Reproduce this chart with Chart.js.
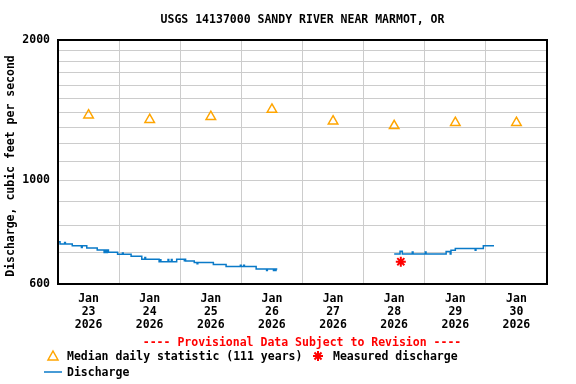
<!DOCTYPE html>
<html>
<head>
<meta charset="utf-8">
<script src="https://cdn.jsdelivr.net/npm/chart.js@4/dist/chart.umd.min.js"></script>
<style>
  body { margin: 0; background: #fff; }
  #wrap { width: 576px; height: 384px; position: relative; }
</style>
</head>
<body>
<div id="wrap"><canvas id="flowChart"></canvas></div>
<script>
// Data (hours since Jan 23 2026 00:00)
const dayLabels = ['23', '24', '25', '26', '27', '28', '29', '30'];
const medianHours = [12, 36, 60, 84, 108, 132, 156, 180];
const medianCfs = [1380, 1350, 1370, 1420, 1340, 1310, 1330, 1330];

const dischargeHours = [
    0, 0.8, 2.6, 2.9, 5.6, 9.2, 9.5, 11.3, 15.4, 18.1, 18.4, 19.0, 19.4, 19.8,
    23.4, 25.3, 25.6, 28.7, 32.9, 34.1, 34.4, 39.7, 40.1, 40.4, 43.2, 43.5, 44.5, 44.8,
    46.6, 49.6, 49.9, 50.1, 53.5, 54.6, 54.9, 61.0, 66.0, 71.6, 71.9, 72.9, 73.2,
    77.8, 81.9, 82.2, 84.6, 84.9, 85.3, 85.6, 86.1,
    100,
    132.0, 134.3, 135.2, 139.1, 139.4, 144.2, 144.5, 152.4, 154.0, 154.3, 156.0,
    163.8, 164.1, 167.0, 171.2
];
const dischargeCfs = [
    739, 731, 736, 731, 725, 718, 725, 717, 710, 701, 710, 701, 710, 702,
    695, 699, 695, 688, 678, 684, 678, 670, 676, 670, 677, 670, 677, 670,
    678, 673, 678, 672, 667, 663, 667, 661, 654, 658, 654, 658, 654,
    646, 641, 646, 641, 646, 641, 646, 646,
    null,
    696, 705, 696, 703, 696, 703, 696, 704, 696, 709, 715,
    709, 715, 725, 725
];

const measuredHours = [134.6];
const measuredCfs = [670];

const yTicks = [600, 700, 800, 900, 1000, 1100, 1200, 1300, 1400, 1500, 1600, 1700, 1800, 1900, 2000];
const yLabeled = [600, 1000, 2000];

const monoFont = '"DejaVu Sans Mono", "Liberation Mono", monospace';
const gridGray = '#cccccc';
const lineBlue = '#0a7ac8';
const medianOrange = '#ffa500';

// Frame, title, axis title, provisional note, legend
const decorPlugin = {
    id: 'decor',
    afterDraw(chart) {
        const ctx = chart.ctx;
        const a = chart.chartArea;
        ctx.save();
        ctx.strokeStyle = '#000';
        ctx.lineWidth = 2;
        ctx.strokeRect(a.left, a.top, a.right - a.left, a.bottom - a.top);

        ctx.font = 'bold 11.5px ' + monoFont;
        ctx.textBaseline = 'middle';
        ctx.fillStyle = '#000';
        ctx.textAlign = 'center';
        ctx.fillText('USGS 14137000 SANDY RIVER NEAR MARMOT, OR', (a.left + a.right) / 2, 20);

        ctx.save();
        ctx.translate(11, 166);
        ctx.rotate(-Math.PI / 2);
        ctx.fillText('Discharge, cubic feet per second', 0, 0);
        ctx.restore();

        ctx.fillStyle = '#ff0000';
        ctx.fillText('---- Provisional Data Subject to Revision ----', 302, 343);

        // legend
        ctx.textAlign = 'left';
        ctx.fillStyle = '#000';
        ctx.fillText('Median daily statistic (111 years)', 67, 357);
        ctx.fillText('Measured discharge', 333, 357);
        ctx.fillText('Discharge', 67, 373);

        ctx.strokeStyle = medianOrange;
        ctx.lineWidth = 1.5;
        ctx.beginPath();
        ctx.moveTo(53, 351);
        ctx.lineTo(58, 360);
        ctx.lineTo(48, 360);
        ctx.closePath();
        ctx.stroke();

        ctx.strokeStyle = '#ff0000';
        ctx.lineWidth = 2;
        ctx.beginPath();
        for (let i = 0; i < 4; i++) {
            const ang = i * Math.PI / 4;
            ctx.moveTo(318 - Math.cos(ang) * 5, 356 - Math.sin(ang) * 5);
            ctx.lineTo(318 + Math.cos(ang) * 5, 356 + Math.sin(ang) * 5);
        }
        ctx.stroke();

        ctx.strokeStyle = lineBlue;
        ctx.lineWidth = 1.5;
        ctx.beginPath();
        ctx.moveTo(44, 372);
        ctx.lineTo(62, 372);
        ctx.stroke();
        ctx.restore();
    }
};

const ctx = document.getElementById('flowChart').getContext('2d');
new Chart(ctx, {
    type: 'line',
    data: {
        datasets: [
            {
                label: 'Median daily statistic (111 years)',
                type: 'scatter',
                data: medianHours.map((h, i) => ({ x: h, y: medianCfs[i] })),
                pointStyle: 'triangle',
                pointRadius: 5.5,
                borderColor: medianOrange,
                backgroundColor: 'rgba(0,0,0,0)',
                borderWidth: 1.5,
                xAxisID: 'x'
            },
            {
                label: 'Measured discharge',
                type: 'scatter',
                data: measuredHours.map((h, i) => ({ x: h, y: measuredCfs[i] })),
                pointStyle: 'star',
                pointRadius: 5,
                borderColor: '#ff0000',
                backgroundColor: '#ff0000',
                borderWidth: 2,
                xAxisID: 'x'
            },
            {
                label: 'Discharge',
                data: dischargeHours.map((h, i) => ({ x: h, y: dischargeCfs[i] })),
                borderColor: lineBlue,
                borderWidth: 1.5,
                pointRadius: 0,
                stepped: true,
                spanGaps: false,
                fill: false,
                xAxisID: 'x'
            }
        ]
    },
    options: {
        responsive: true,
        maintainAspectRatio: false,
        animation: false,
        layout: { padding: { top: 40, right: 29, bottom: 50, left: 0 } },
        plugins: {
            legend: { display: false },
            tooltip: { enabled: false }
        },
        scales: {
            x: {
                type: 'linear',
                min: 0,
                max: 192,
                position: 'bottom',
                afterBuildTicks: (scale) => {
                    scale.ticks = [0, 24, 48, 72, 96, 120, 144, 168, 192].map(v => ({ value: v }));
                },
                afterFit: (scale) => { scale.height = 0; },
                ticks: { display: false },
                grid: { color: gridGray, lineWidth: 1, drawTicks: false },
                border: { display: false }
            },
            x2: {
                type: 'linear',
                min: 0,
                max: 192,
                position: 'bottom',
                afterBuildTicks: (scale) => {
                    scale.ticks = medianHours.map(v => ({ value: v }));
                },
                afterFit: (scale) => { scale.height = 50; },
                ticks: {
                    autoSkip: false,
                    maxRotation: 0,
                    padding: 9,
                    color: '#000',
                    font: { family: monoFont, size: 11.5, weight: 'bold', lineHeight: 1.13 },
                    callback: (value) => {
                        const i = medianHours.indexOf(value);
                        return ['Jan', dayLabels[i], '2026'];
                    }
                },
                grid: { display: false, drawTicks: false },
                border: { display: false }
            },
            y: {
                type: 'logarithmic',
                min: 600,
                max: 2000,
                afterBuildTicks: (scale) => {
                    scale.ticks = yTicks.map(v => ({ value: v }));
                },
                afterFit: (scale) => { scale.width = 58; },
                ticks: {
                    autoSkip: false,
                    padding: 8,
                    color: '#000',
                    font: { family: monoFont, size: 11.5, weight: 'bold' },
                    callback: (value) => yLabeled.includes(value) ? String(value) : ''
                },
                grid: { color: gridGray, lineWidth: 1, drawTicks: false },
                border: { display: false }
            }
        }
    },
    plugins: [decorPlugin]
});
</script>
</body>
</html>
